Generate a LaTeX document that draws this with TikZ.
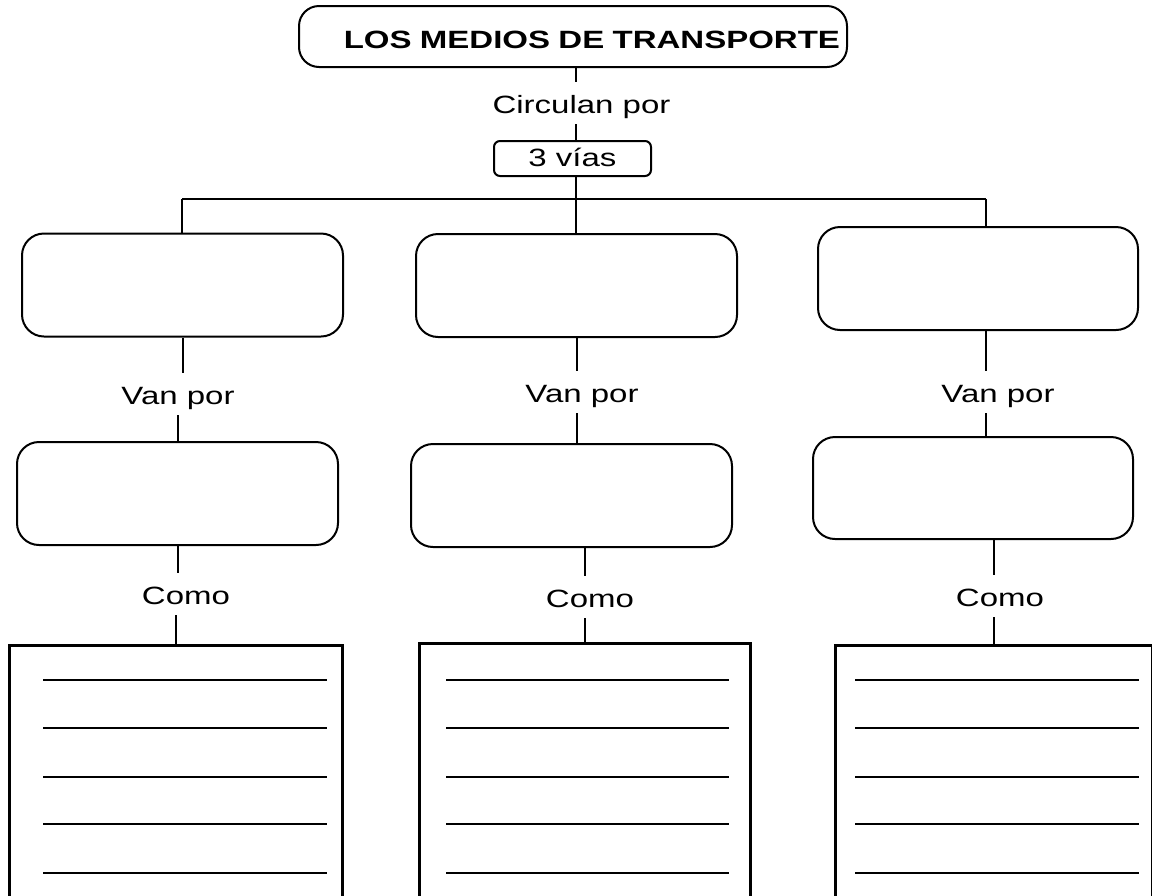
\documentclass[tikz,border=0pt]{standalone}
\usepackage{fontspec}
\newfontfamily\mapfont[FakeStretch=1.32]{Liberation Sans}
\usepackage{tikz}

\begin{document}
\begin{tikzpicture}[x=1pt,y=-1pt,line width=2pt,
  main node/.style={rectangle,rounded corners=22pt,draw,minimum width=321pt,minimum height=103pt},
  word node/.style={inner sep=0pt,inner ysep=8pt,text height=22pt,text depth=2pt},
  lined node/.style={rectangle,draw,line width=3pt,anchor=north,minimum height=280pt},
  font=\mapfont\fontsize{25}{29}\selectfont]
  \useasboundingbox (0,0) rectangle (1152,895);
  \clip (0,0) rectangle (1152,895);
  \node[draw,rounded corners=20pt,minimum height=61pt,text width=534pt,inner xsep=7pt,align=right,
    text height=24pt,text depth=0pt,font=\mapfont\bfseries\fontsize{25}{29}\selectfont] (title) at (573,36.5) {LOS MEDIOS DE TRANSPORTE};
  \node[word node] (circ) at (581.5,103) {Circulan por};
  \node[draw,rounded corners=6pt,minimum width=157pt,minimum height=35pt,inner sep=0pt,text depth=3pt] (vias) at (572.5,158.5) {3 vías};
  \coordinate (j1) at (182,199);
  \coordinate (j2) at (576,199);
  \coordinate (j3) at (986,199);
  % first row
  \node[main node] (a1) at (182.5,285) {};
  \node[main node] (a2) at (576.5,285.5) {};
  \node[main node,minimum width=320pt] (a3) at (978,278.5) {};
  \node[word node] (v1) at (178,394) {Van por};
  \node[word node] (v2) at (582,392) {Van por};
  \node[word node] (v3) at (998,392) {Van por};
  % second row
  \node[main node] (b1) at (177.5,493.5) {};
  \node[main node] (b2) at (571.5,495.5) {};
  \node[main node,minimum width=320pt,minimum height=102pt] (b3) at (973,488) {};
  \node[word node] (c1) at (186,594) {Como};
  \node[word node] (c2) at (590,597) {Como};
  \node[word node] (c3) at (1000,596) {Como};
  % lined boxes
  \node[lined node,minimum width=333pt] (l1) at (175.5,644) {};
  \node[lined node,minimum width=331pt] (l2) at (584.5,642) {};
  \node[lined node,minimum width=317pt] (l3) at (993.5,644) {};
  \foreach \xa/\xb in {43/327,446/729,855/1139}
    \foreach \y in {680,728,777,824,873}
      \draw[line width=2.2pt] (\xa,\y) -- (\xb,\y);
  \path
    (j2 |- title.south) edge (j2 |- circ.north)
    (j2 |- circ.south) edge (j2 |- vias.north)
    (j2 |- vias.south) edge (j2 |- a2.north)
    (j1) edge (j3)
    (j1) edge (j1 |- a1.north)
    (j3) edge (j3 |- a3.north)
    (a1.south) edge (a1.south |- v1.north)
    (b1.north |- v1.south) edge (b1.north)
    (b1.south) edge (b1.south |- c1.north)
    (l1.north |- c1.south) edge (l1.north)
    (a2.south) edge (a2.south |- v2.north)
    (a2.south |- v2.south) edge (a2.south |- b2.north)
    (l2.north |- b2.south) edge (l2.north |- c2.north)
    (l2.north |- c2.south) edge (l2.north)
    (j3 |- a3.south) edge (j3 |- v3.north)
    (j3 |- v3.south) edge (j3 |- b3.north)
    (l3.north |- b3.south) edge (l3.north |- c3.north)
    (l3.north |- c3.south) edge (l3.north);
\end{tikzpicture}
\end{document}
